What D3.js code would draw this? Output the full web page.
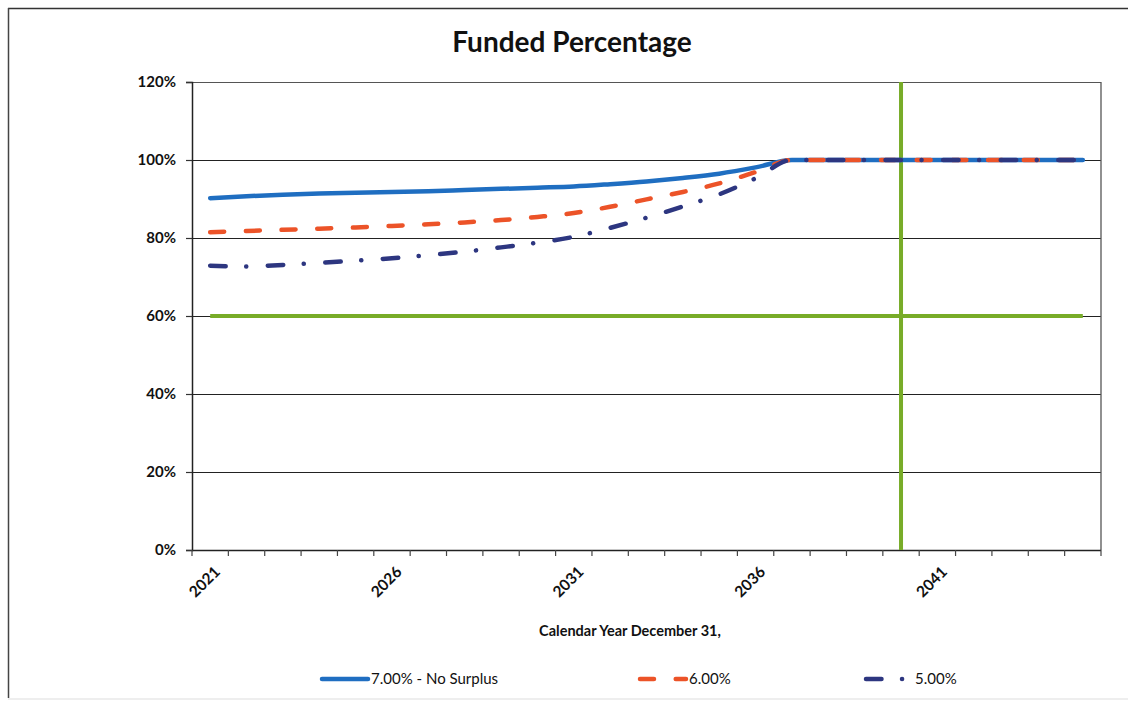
<!DOCTYPE html>
<html>
<head>
<meta charset="utf-8">
<script src="https://cdn.jsdelivr.net/npm/d3@7"></script>
<style>
  html, body { margin: 0; padding: 0; background: #fff; }
  svg { display: block; }
  text { font-family: Lato, "Open Sans", sans-serif; fill: #111; }
</style>
</head>
<body>
<svg id="chart" width="1128" height="702"></svg>
<script>
// Projection years (valuation date December 31)
const years = [2021, 2022, 2023, 2024, 2025, 2026, 2027, 2028, 2029, 2030,
               2031, 2032, 2033, 2034, 2035, 2036, 2037, 2038, 2039, 2040,
               2041, 2042, 2043, 2044, 2045];

// Funded percentage by return assumption
const rate700 = [90.2, 90.7, 91.1, 91.4, 91.6, 91.8, 92.0, 92.3, 92.6, 92.9,
                 93.2, 93.8, 94.5, 95.4, 96.5, 98.1, 100, 100, 100, 100,
                 100, 100, 100, 100, 100];
const rate600 = [81.5, 81.8, 82.1, 82.4, 82.7, 83.1, 83.5, 84.0, 84.6, 85.4,
                 86.4, 88.0, 89.9, 91.8, 94.0, 96.9, 100, 100, 100, 100,
                 100, 100, 100, 100, 100];
const rate500 = [72.9, 72.7, 73.1, 73.6, 74.2, 74.8, 75.6, 76.5, 77.6, 78.8,
                 80.3, 82.6, 85.2, 88.1, 91.2, 95.3, 100, 100, 100, 100,
                 100, 100, 100, 100, 100];

const seriesNames = ["7.00% - No Surplus", "6.00%", "5.00%"];

// Reference markers: 60% threshold and the 2040 target year
const thresholdLevel = 60;
const targetYear = 2040;

const yTicks = [0, 20, 40, 60, 80, 100, 120];
const xLabelYears = [2021, 2026, 2031, 2036, 2041];

const svg = d3.select("#chart");
const W = 1128, H = 702;
const plot = { left: 192, right: 1101, top: 82, bottom: 550 };

// Outer chart frame
svg.append("line").attr("x1", 8).attr("x2", W).attr("y1", 8.5).attr("y2", 8.5)
  .attr("stroke", "#333").attr("stroke-width", 1.3);
svg.append("line").attr("x1", 8.5).attr("x2", 8.5).attr("y1", 8).attr("y2", 698)
  .attr("stroke", "#444").attr("stroke-width", 1.5);
svg.append("line").attr("x1", 8).attr("x2", W).attr("y1", 699).attr("y2", 699)
  .attr("stroke", "#ddd").attr("stroke-width", 1);

const x = d3.scaleBand().domain(years).range([plot.left, plot.right]).padding(0);
const xc = d => x(d) + x.bandwidth() / 2;
const y = d3.scaleLinear().domain([0, 120]).range([plot.bottom, plot.top]);

// Title
svg.append("text").attr("x", 572).attr("y", 52).attr("text-anchor", "middle")
  .style("font-size", "28px").style("font-weight", "700").text("Funded Percentage");

// Horizontal gridlines
svg.append("g").selectAll("line").data(yTicks.filter(t => t > 0)).join("line")
  .attr("x1", plot.left).attr("x2", plot.right)
  .attr("y1", d => Math.round(y(d)) + 0.5).attr("y2", d => Math.round(y(d)) + 0.5)
  .attr("stroke", d => d === 120 ? "#555" : "#222").attr("stroke-width", 1.2);

// Right frame of plot area
svg.append("line").attr("x1", plot.right).attr("x2", plot.right)
  .attr("y1", plot.top).attr("y2", plot.bottom)
  .attr("stroke", "#555").attr("stroke-width", 1.3);

// Y axis
const yAxis = d3.axisLeft(y).tickValues(yTicks).tickFormat(d => d + "%").tickSize(6).tickPadding(10);
const gy = svg.append("g").attr("transform", `translate(${plot.left},0)`).call(yAxis);
gy.select(".domain").attr("stroke", "#222").attr("stroke-width", 1.5);
gy.selectAll(".tick line").attr("stroke", "#333").attr("stroke-width", 1.2);
gy.selectAll(".tick text").style("font-size", "15px").style("font-weight", "700")
  .style("font-family", "Lato, sans-serif").attr("fill", "#111");

// X axis: ticks between categories
const boundaries = years.map(d => x(d)).concat([plot.right]);
const gx = svg.append("g");
gx.append("line").attr("x1", plot.left).attr("x2", plot.right)
  .attr("y1", plot.bottom + 0.5).attr("y2", plot.bottom + 0.5)
  .attr("stroke", "#222").attr("stroke-width", 1.5);
gx.selectAll("line.tk").data(boundaries).join("line").attr("class", "tk")
  .attr("x1", d => d).attr("x2", d => d)
  .attr("y1", plot.bottom).attr("y2", plot.bottom + 6)
  .attr("stroke", "#444").attr("stroke-width", 1.2);
gx.selectAll("text").data(xLabelYears).join("text")
  .attr("transform", d => `translate(${xc(d) + 7},${plot.bottom + 19}) rotate(-45)`)
  .attr("text-anchor", "end").attr("dy", "0.35em")
  .style("font-size", "15.5px").style("font-weight", "700").text(d => d);

// Axis title
svg.append("text").attr("x", 630).attr("y", 636).attr("text-anchor", "middle")
  .style("font-size", "14.5px").style("font-weight", "700").text("Calendar Year December 31,");

// Reference lines
const green = "#78AC28";
svg.append("line")
  .attr("x1", xc(years[0])).attr("x2", xc(years[years.length - 1]))
  .attr("y1", y(thresholdLevel)).attr("y2", y(thresholdLevel))
  .attr("stroke", green).attr("stroke-width", 4);
svg.append("line")
  .attr("x1", xc(targetYear)).attr("x2", xc(targetYear))
  .attr("y1", y(0)).attr("y2", y(120))
  .attr("stroke", green).attr("stroke-width", 4);

// Series lines
const line = d3.line().x((d, i) => xc(years[i])).y(d => y(d)).curve(d3.curveMonotoneX);
const series = [
  { name: seriesNames[0], values: rate700, color: "#1F6EC1", dash: null },
  { name: seriesNames[1], values: rate600, color: "#EC5328", dash: "14,21.7" },
  { name: seriesNames[2], values: rate500, color: "#2D3680", dash: "15.5,20.5,0.1,21.5" }
];
series.forEach(s => {
  svg.append("path").datum(s.values).attr("d", line)
    .attr("fill", "none").attr("stroke", s.color).attr("stroke-width", 4.5)
    .attr("stroke-linecap", "round").attr("stroke-linejoin", "round")
    .attr("stroke-dasharray", s.dash);
});

// Legend
const legendX = [320, 638, 864];
const lg = svg.append("g");
series.forEach((s, i) => {
  const x0 = legendX[i];
  lg.append("line").attr("x1", x0 + 2).attr("x2", x0 + 48).attr("y1", 679).attr("y2", 679)
    .attr("stroke", s.color).attr("stroke-width", 4.5).attr("stroke-linecap", "round")
    .attr("stroke-dasharray", s.dash);
  lg.append("text").attr("x", x0 + 51).attr("y", 679).attr("dy", "0.35em")
    .style("font-size", "15px").text(s.name);
});
</script>
</body>
</html>
